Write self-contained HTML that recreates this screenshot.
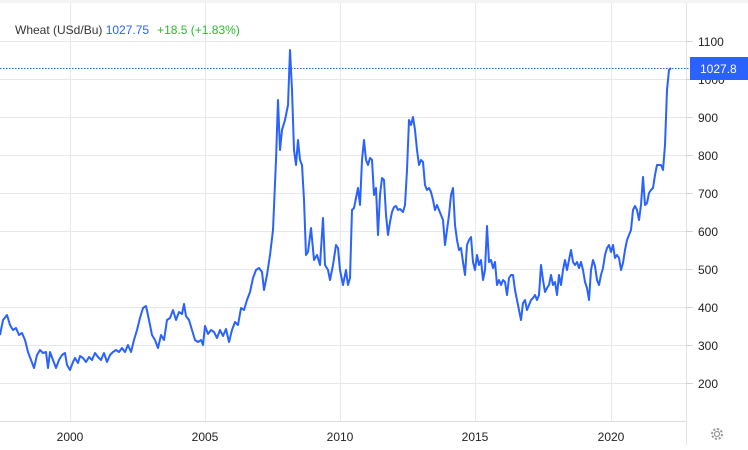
<!DOCTYPE html>
<html><head><meta charset="utf-8"><style>
html,body{margin:0;padding:0;background:#fff;}
svg{display:block;font-family:"Liberation Sans",Arial,sans-serif;}
</style></head><body>
<svg width="748" height="450" viewBox="0 0 748 450" xmlns="http://www.w3.org/2000/svg">
<rect x="0" y="0" width="748" height="3" fill="#f3f4f6"/>
<g stroke="#e6e8ec" stroke-width="1">
<line x1="0" x2="686" y1="41.5" y2="41.5"/>
<line x1="0" x2="686" y1="79.5" y2="79.5"/>
<line x1="0" x2="686" y1="117.5" y2="117.5"/>
<line x1="0" x2="686" y1="155.5" y2="155.5"/>
<line x1="0" x2="686" y1="193.5" y2="193.5"/>
<line x1="0" x2="686" y1="231.5" y2="231.5"/>
<line x1="0" x2="686" y1="269.5" y2="269.5"/>
<line x1="0" x2="686" y1="307.5" y2="307.5"/>
<line x1="0" x2="686" y1="345.5" y2="345.5"/>
<line x1="0" x2="686" y1="383.5" y2="383.5"/>
<line x1="70.5" x2="70.5" y1="3" y2="421"/>
<line x1="205.5" x2="205.5" y1="3" y2="421"/>
<line x1="340.5" x2="340.5" y1="3" y2="421"/>
<line x1="475.5" x2="475.5" y1="3" y2="421"/>
<line x1="611.5" x2="611.5" y1="3" y2="421"/>
</g>
<line x1="686.5" x2="686.5" y1="3" y2="445" stroke="#e0e3e8"/>
<line x1="0" x2="686" y1="421.5" y2="421.5" stroke="#d8dce4"/>
<g stroke="#d0d4da">
<line x1="686" x2="693" y1="41.5" y2="41.5"/><line x1="686" x2="693" y1="79.5" y2="79.5"/>
<line x1="686" x2="693" y1="117.5" y2="117.5"/><line x1="686" x2="693" y1="155.5" y2="155.5"/>
<line x1="686" x2="693" y1="193.5" y2="193.5"/><line x1="686" x2="693" y1="231.5" y2="231.5"/>
<line x1="686" x2="693" y1="269.5" y2="269.5"/><line x1="686" x2="693" y1="307.5" y2="307.5"/>
<line x1="686" x2="693" y1="345.5" y2="345.5"/><line x1="686" x2="693" y1="383.5" y2="383.5"/>
</g>
<g font-size="12" fill="#222">
<text x="698" y="46">1100</text><text x="698" y="84">1000</text>
<text x="698" y="122">900</text><text x="698" y="160">800</text>
<text x="698" y="198">700</text><text x="698" y="236">600</text>
<text x="698" y="274">500</text><text x="698" y="312">400</text>
<text x="698" y="350">300</text><text x="698" y="388">200</text>
</g>
<g font-size="12" fill="#222" text-anchor="middle">
<text x="70" y="441">2000</text><text x="205" y="441">2005</text>
<text x="340" y="441">2010</text><text x="475" y="441">2015</text>
<text x="611" y="441">2020</text>
</g>
<line x1="0" x2="690" y1="68.5" y2="68.5" stroke="#2962ff" stroke-width="1" stroke-dasharray="1.5,1.5"/>
<polyline fill="none" stroke="#2962ff" stroke-width="2" stroke-linejoin="round" points="0,335 3,320 7,315 10,325 13,330 16,328 19,335 22,333 25,340 28,352 31,360 34,368 37,355 40,350 43,353 46,352 48,368 50,352 53,360 56,368 59,360 62,355 65,353 67,365 70,370 73,362 75,358 78,363 80,356 83,358 86,362 89,357 92,360 95,353 98,357 101,360 104,353 107,362 110,355 113,352 116,350 119,352 122,348 125,352 128,345 131,352 134,340 137,330 140,318 143,308 146,306 149,320 152,335 155,340 158,348 161,335 164,340 167,320 170,318 173,310 176,320 179,312 182,314 184,304 186,316 189,320 192,330 195,340 198,342 201,340 203,345 205,326 208,334 211,330 214,332 217,338 220,330 223,336 226,329 229,342 232,330 235,322 238,325 241,308 244,310 247,300 250,292 253,278 256,270 259,268 262,272 264,290 267,275 270,255 273,230 276,160 278,100 280,150 282,130 285,120 288,105 290,50 292,90 294,150 296,165 298,140 300,160 302,165 304,200 306,255 308,252 311,228 314,260 317,255 320,265 323,218 325,265 328,270 330,280 333,265 336,245 338,248 340,270 343,285 346,270 348,285 350,278 352,210 354,208 356,198 358,188 360,205 362,160 364,140 366,160 368,165 370,158 372,160 374,195 376,188 378,235 380,195 382,178 384,180 386,215 388,235 390,222 392,212 394,207 396,206 398,210 400,209 403,212 405,205 407,170 409,120 411,125 413,117 415,130 417,150 419,165 421,160 423,162 425,185 427,190 429,188 431,192 433,200 435,210 437,205 439,210 441,215 443,220 445,245 447,230 449,215 451,195 453,188 455,225 457,240 459,250 461,248 463,262 465,275 467,245 469,240 471,237 473,262 475,270 477,255 479,265 481,260 483,280 485,270 487,226 489,262 491,260 493,268 495,262 497,285 499,280 501,285 503,280 505,282 507,295 509,278 511,275 513,275 515,290 517,300 519,310 521,320 523,303 525,300 527,310 529,305 531,300 533,298 535,295 537,300 539,295 541,265 543,280 545,292 547,288 549,285 551,275 553,285 555,282 557,295 559,275 561,285 563,270 565,260 567,270 569,260 571,250 573,262 575,265 577,262 579,268 581,262 583,270 585,282 587,288 589,300 591,270 593,260 595,266 597,280 599,285 601,275 603,268 605,255 607,248 609,245 611,252 613,245 615,258 617,255 619,258 621,270 623,263 625,250 627,240 629,235 631,230 633,210 635,206 637,210 639,220 641,205 643,177 645,205 647,203 649,193 651,190 653,188 655,175 657,165 659,165 661,165 663,170 665,145 667,90 669,70 671,68"/>
<rect x="690" y="57" width="58" height="23" fill="#2962ff"/>
<text x="700" y="73" font-size="12" fill="#fff">1027.8</text>
<text x="15" y="34" font-size="12"><tspan fill="#333">Wheat (USd/Bu) </tspan><tspan fill="#2962ff">1027.75</tspan><tspan fill="#2eb82e" dx="8">+18.5 (+1.83%)</tspan></text>
<g transform="translate(717,434)" fill="none" stroke="#999" stroke-width="1.2">
<circle r="2.5"/>
<circle r="5" stroke-dasharray="2.2,1.7" stroke-width="2"/>
</g>
</svg>
</body></html>
